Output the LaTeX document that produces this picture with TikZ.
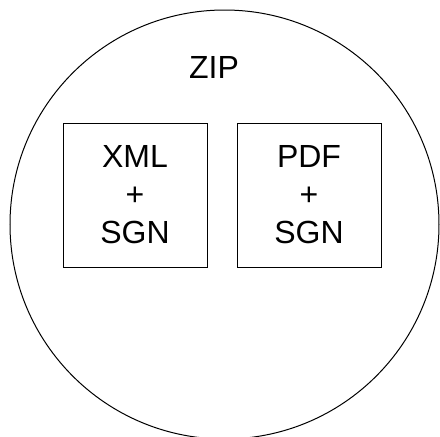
\documentclass[tikz,border=0pt]{standalone}
\usepackage{fontspec}
\setmainfont{Liberation Sans}
\tikzset{
  filebox/.style={draw=black, line width=1pt, minimum width=144pt, minimum height=144pt, inner sep=0pt,
    align=center, font=\fontsize{32pt}{38pt}\selectfont},
  ziplabel/.style={font=\fontsize{32pt}{38pt}\selectfont, inner sep=0pt}
}
\begin{document}
\begin{tikzpicture}[x=1pt,y=1pt]
\useasboundingbox (0,0) rectangle (440,-437);
\clip (0,0) rectangle (440,-437);
\node[draw=black, line width=1pt, circle, minimum size=429pt, inner sep=0pt] (zip) at (224.5,-224.5) {};
\node[ziplabel, anchor=base] (ziptext) at (214,-78) {ZIP};
\node[filebox] (xml) at (135,-195) {XML\\+\\SGN};
\node[filebox] (pdf) at (309,-195) {PDF\\+\\SGN};
\end{tikzpicture}
\end{document}
